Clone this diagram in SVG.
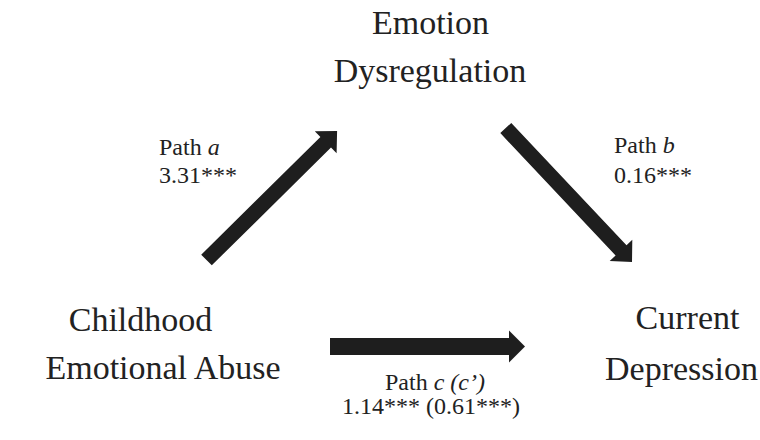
<svg xmlns="http://www.w3.org/2000/svg" width="760" height="440" viewBox="0 0 760 440">
<style>
.node{font-family:"Liberation Serif","Times New Roman",serif;font-size:34px;fill:#222;text-anchor:middle}
.lbl{font-family:"Liberation Serif","Times New Roman",serif;font-size:24px;fill:#222}
.arrow{fill:#1e1e1e;stroke:none}
</style>
<rect width="760" height="440" fill="#fff"/>
<g id="connectors">
<polygon id="path-a" class="arrow" points="211.8,265.3 331.0,147.6 336.6,153.3 337.1,131.1 314.8,131.3 320.4,137.0 201.2,254.7"/>
<polygon id="path-b" class="arrow" points="500.3,133.1 615.6,255.5 609.7,261.0 632,262 632.3,239.7 626.5,245.2 511.3,122.9"/>
<polygon id="path-c" class="arrow" points="330,338 509,338 509,330.5 525,346.5 509,362.5 509,355 330,355"/>
</g>
<g id="node-emotion">
<text class="node" x="430.5" y="34">Emotion</text>
<text class="node" x="430" y="82">Dysregulation</text>
</g>
<g id="node-abuse">
<text class="node" x="140.5" y="331">Childhood</text>
<text class="node" x="163" y="379">Emotional Abuse</text>
</g>
<g id="node-depression">
<text class="node" x="687.5" y="329">Current</text>
<text class="node" x="681.5" y="380">Depression</text>
</g>
<g id="labels">
<text class="lbl" x="159" y="155">Path <tspan font-style="italic">a</tspan></text>
<text class="lbl" x="159" y="183">3.31***</text>
<text class="lbl" x="614" y="153">Path <tspan font-style="italic">b</tspan></text>
<text class="lbl" x="614" y="183">0.16***</text>
<text class="lbl" x="435" y="390" text-anchor="middle">Path <tspan font-style="italic">c (c’)</tspan></text>
<text class="lbl" x="431" y="414" text-anchor="middle">1.14*** (0.61***)</text>
</g>
</svg>
